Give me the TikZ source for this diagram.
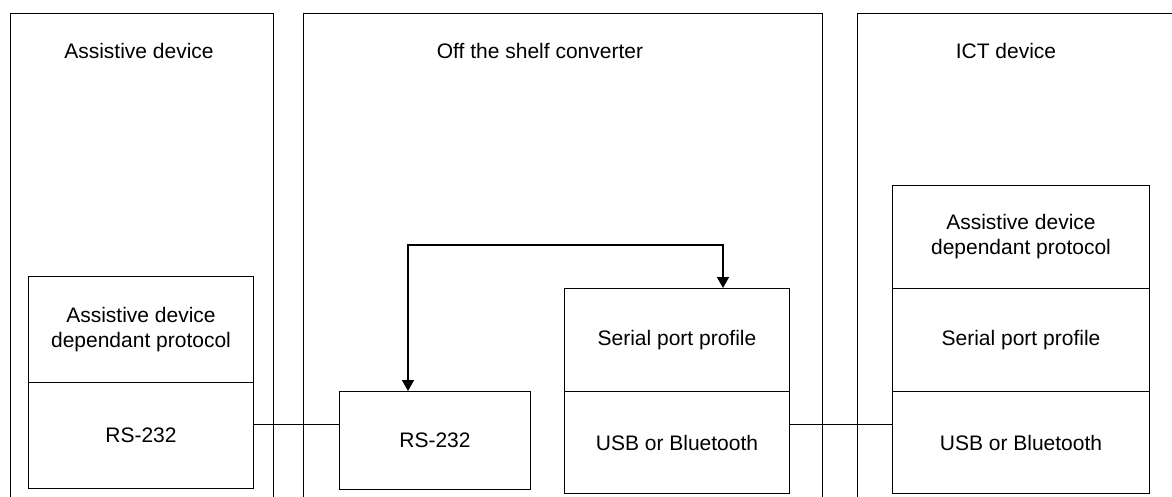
\documentclass[tikz,border=0pt]{standalone}
\usepackage{fontspec}
\setmainfont{Liberation Sans}
\usetikzlibrary{arrows.meta}
\begin{document}
\begin{tikzpicture}[x=1pt,y=-1pt,
  font=\fontsize{21}{25}\selectfont,
  frame/.style={draw,line width=1pt},
  layer/.style={draw,line width=1pt,rectangle,anchor=north west,inner sep=0pt,align=center},
  title/.style={anchor=base,inner sep=0pt},
  link/.style={line width=1pt},
  flow/.style={line width=1.6pt,{Triangle[width=12pt,length=11pt]}-{Triangle[width=12pt,length=11pt]}}]
\useasboundingbox (0,0) rectangle (1172,497);
\clip (0,0) rectangle (1172,497);

% device frames (open at the bottom edge)
\draw[frame] (10,14) rectangle (273,520);
\draw[frame] (303,14) rectangle (822,520);
\draw[frame] (857,14) rectangle (1190,520);

\node[title] (t1) at (139,59) {Assistive device};
\node[title] (t2) at (540,59) {Off the shelf converter};
\node[title] (t3) at (1006,59) {ICT device};

% assistive device stack
\node[layer,minimum width=225pt,minimum height=106pt] (adp) at (28,276) {Assistive device\\dependant protocol};
\node[layer,minimum width=225pt,minimum height=106pt] (ars) at (28,382) {RS-232};

% converter
\node[layer,minimum width=191pt,minimum height=98pt] (crs) at (339,391) {RS-232};
\node[layer,minimum width=225pt,minimum height=103pt] (csp) at (564,288) {Serial port profile};
\node[layer,minimum width=225pt,minimum height=102pt] (cbt) at (564,391) {USB or Bluetooth};

% ICT device stack
\node[layer,minimum width=257pt,minimum height=103pt] (iadp) at (892,185) {Assistive device\\dependant protocol};
\node[layer,minimum width=257pt,minimum height=103pt] (isp) at (892,288) {Serial port profile};
\node[layer,minimum width=257pt,minimum height=102pt] (ibt) at (892,391) {USB or Bluetooth};

% physical links
\coordinate (wire) at (0,424.5);
\draw[link] (ars.east |- wire) -- (crs.west |- wire);
\draw[link] (cbt.east |- wire) -- (ibt.west |- wire);

% data path through the converter
\coordinate (ra) at (408,245);
\coordinate (rb) at (723,245);
\draw[flow] (ra |- crs.north) -- (ra) -- (rb) -- (rb |- csp.north);
\end{tikzpicture}
\end{document}
